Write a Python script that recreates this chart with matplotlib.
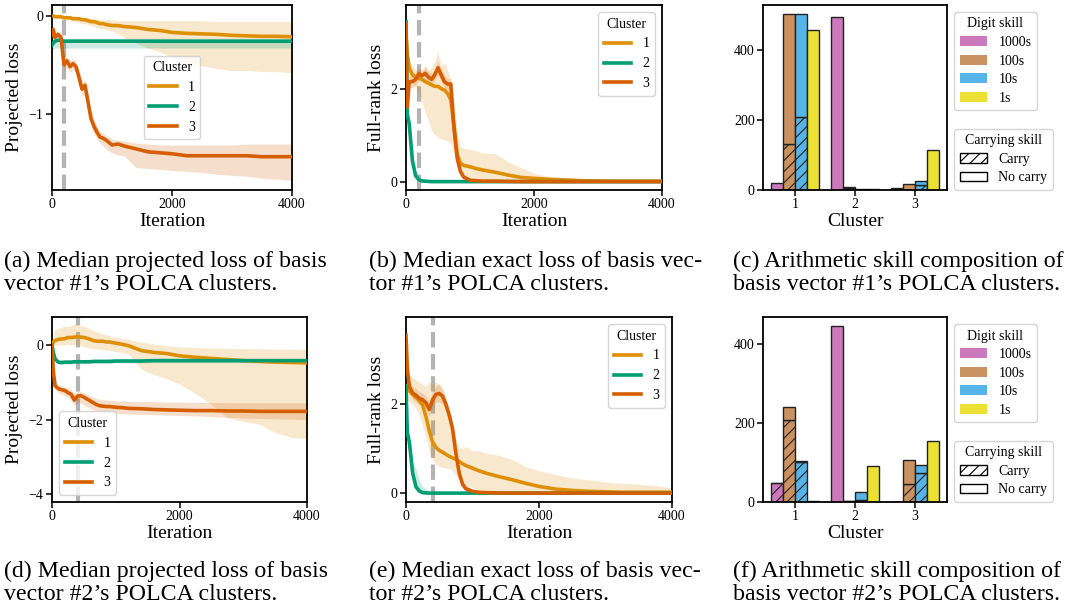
import matplotlib
matplotlib.use("Agg")
import matplotlib.pyplot as plt
from matplotlib.patches import Patch
import numpy as np

plt.rcParams['font.family'] = ['Liberation Serif', 'DejaVu Serif']
plt.rcParams['hatch.linewidth'] = 0.8

# ---------------- data ----------------
ITER = [0, 20, 50, 100, 150, 200, 250, 300, 350, 400, 450, 500, 550, 600, 650, 700, 750, 800, 850, 900,
        1000, 1100, 1200, 1400, 1600, 1800, 2000, 2250, 2500, 2750, 3000, 3250, 3500, 3750, 4000]

# (a) projected loss, basis vector #1
A1_MED = [0.0, 0.0, -0.01, -0.01, -0.01, -0.02, -0.02, -0.02, -0.03, -0.03, -0.03, -0.04, -0.04, -0.05, -0.06, -0.06, -0.07, -0.08, -0.08, -0.09,
          -0.10, -0.10, -0.11, -0.12, -0.14, -0.15, -0.17, -0.18, -0.185, -0.19, -0.20, -0.205, -0.21, -0.21, -0.215]
A1_HI = [0.0, 0.0, 0.0, 0.0, 0.0, 0.0, -0.01, -0.01, -0.01, -0.01, -0.01, -0.02, -0.02, -0.02, -0.03, -0.03, -0.03, -0.04, -0.04, -0.04,
         -0.04, -0.05, -0.05, -0.05, -0.05, -0.05, -0.05, -0.05, -0.05, -0.06, -0.06, -0.06, -0.06, -0.06, -0.06]
A1_LO = [0.0, -0.01, -0.02, -0.02, -0.03, -0.04, -0.04, -0.05, -0.05, -0.06, -0.07, -0.08, -0.08, -0.09, -0.10, -0.11, -0.12, -0.13, -0.13, -0.14,
         -0.16, -0.18, -0.22, -0.28, -0.33, -0.37, -0.42, -0.48, -0.51, -0.54, -0.56, -0.56, -0.57, -0.57, -0.58]
A2_MED = [-0.30, -0.28, -0.26, -0.25, -0.25, -0.26, -0.26, -0.26, -0.26, -0.26, -0.26, -0.26, -0.26, -0.26, -0.26, -0.26, -0.26, -0.26, -0.26, -0.26,
          -0.26, -0.26, -0.26, -0.26, -0.26, -0.26, -0.26, -0.26, -0.26, -0.26, -0.26, -0.26, -0.26, -0.26, -0.26]
A2_HI = [-0.24, -0.23, -0.23, -0.23, -0.23, -0.23, -0.23, -0.23, -0.23, -0.23, -0.23, -0.23, -0.23, -0.23, -0.23, -0.23, -0.23, -0.23, -0.23, -0.23,
         -0.23, -0.23, -0.23, -0.23, -0.23, -0.23, -0.23, -0.23, -0.23, -0.23, -0.23, -0.23, -0.23, -0.23, -0.23]
A2_LO = [-0.35, -0.34, -0.33, -0.33, -0.33, -0.33, -0.33, -0.33, -0.33, -0.33, -0.33, -0.33, -0.33, -0.33, -0.33, -0.33, -0.33, -0.33, -0.33, -0.33,
         -0.33, -0.33, -0.33, -0.33, -0.33, -0.33, -0.33, -0.33, -0.33, -0.33, -0.33, -0.33, -0.33, -0.33, -0.33]
A3_MED = [-0.20, -0.14, -0.22, -0.19, -0.22, -0.50, -0.46, -0.52, -0.49, -0.52, -0.63, -0.75, -0.71, -0.88, -1.05, -1.13, -1.19, -1.24, -1.25, -1.27,
          -1.32, -1.31, -1.33, -1.36, -1.39, -1.40, -1.41, -1.43, -1.43, -1.43, -1.43, -1.43, -1.44, -1.44, -1.44]
A3_HI = [-0.12, -0.10, -0.15, -0.16, -0.18, -0.42, -0.42, -0.46, -0.44, -0.46, -0.55, -0.68, -0.66, -0.80, -0.97, -1.06, -1.13, -1.19, -1.20, -1.22,
         -1.26, -1.27, -1.28, -1.30, -1.31, -1.32, -1.32, -1.32, -1.32, -1.32, -1.32, -1.31, -1.31, -1.31, -1.31]
A3_LO = [-0.30, -0.24, -0.28, -0.25, -0.28, -0.56, -0.52, -0.58, -0.55, -0.58, -0.68, -0.82, -0.80, -0.95, -1.12, -1.20, -1.26, -1.30, -1.33, -1.36,
         -1.40, -1.42, -1.43, -1.55, -1.56, -1.57, -1.58, -1.59, -1.60, -1.62, -1.63, -1.64, -1.66, -1.67, -1.68]

# (b) full-rank loss, basis vector #1
B1_MED = [3.2, 2.75, 2.45, 2.30, 2.25, 2.22, 2.20, 2.15, 2.12, 2.08, 2.05, 2.05, 2.00, 1.97, 1.90, 1.76, 1.20, 0.60, 0.40, 0.35,
          0.32, 0.28, 0.25, 0.20, 0.14, 0.09, 0.07, 0.05, 0.035, 0.02, 0.015, 0.01, 0.01, 0.01, 0.01]
B1_HI = [3.4, 2.9, 2.6, 2.5, 2.4, 2.45, 2.35, 2.5, 2.4, 2.45, 2.6, 2.8, 2.5, 2.55, 2.4, 2.2, 1.7, 1.1, 0.75, 0.72,
         0.70, 0.66, 0.62, 0.60, 0.42, 0.30, 0.18, 0.10, 0.06, 0.04, 0.03, 0.02, 0.02, 0.01, 0.01]
B1_LO = [2.8, 2.5, 2.2, 2.1, 2.05, 1.9, 1.7, 1.5, 1.3, 1.1, 1.0, 0.95, 0.92, 0.90, 0.88, 0.82, 0.60, 0.35, 0.15, 0.10,
         0.06, 0.04, 0.02, 0.01, 0.0, 0.0, 0.0, 0.0, 0.0, 0.0, 0.0, 0.0, 0.0, 0.0, 0.0]
B2_MED = [3.45, 1.45, 1.25, 0.45, 0.13, 0.04, 0.015, 0.01, 0.005, 0.0, 0.0, 0.0, 0.0, 0.0, 0.0, 0.0, 0.0, 0.0, 0.0, 0.0,
          0.0, 0.0, 0.0, 0.0, 0.0, 0.0, 0.0, 0.0, 0.0, 0.0, 0.0, 0.0, 0.0, 0.0, 0.0]
B2_HI = [3.5, 1.6, 1.4, 0.6, 0.22, 0.08, 0.04, 0.02, 0.01, 0.01, 0.01, 0.01, 0.01, 0.01, 0.01, 0.01, 0.01, 0.01, 0.01, 0.01,
         0.01, 0.01, 0.01, 0.01, 0.01, 0.01, 0.01, 0.01, 0.01, 0.01, 0.01, 0.01, 0.01, 0.01, 0.01]
B2_LO = [3.4, 1.35, 1.1, 0.3, 0.08, 0.02, 0.0, 0.0, 0.0, 0.0, 0.0, 0.0, 0.0, 0.0, 0.0, 0.0, 0.0, 0.0, 0.0, 0.0,
         0.0, 0.0, 0.0, 0.0, 0.0, 0.0, 0.0, 0.0, 0.0, 0.0, 0.0, 0.0, 0.0, 0.0, 0.0]
B3_MED = [3.4, 1.6, 2.15, 2.15, 2.2, 2.32, 2.28, 2.33, 2.25, 2.2, 2.3, 2.45, 2.3, 2.15, 2.1, 2.1, 1.15, 0.5, 0.22, 0.1,
          0.03, 0.02, 0.01, 0.01, 0.005, 0.0, 0.0, 0.0, 0.0, 0.0, 0.0, 0.0, 0.0, 0.0, 0.0]
B3_HI = [3.5, 2.0, 2.27, 2.28, 2.33, 2.45, 2.4, 2.46, 2.38, 2.33, 2.43, 2.6, 2.43, 2.28, 2.22, 2.22, 1.3, 0.62, 0.3, 0.15,
         0.06, 0.04, 0.03, 0.02, 0.01, 0.01, 0.01, 0.01, 0.01, 0.01, 0.01, 0.01, 0.01, 0.01, 0.01]
B3_LO = [3.2, 1.5, 2.02, 2.02, 2.07, 2.2, 2.15, 2.2, 2.12, 2.07, 2.17, 2.3, 2.17, 2.02, 1.98, 1.95, 1.0, 0.38, 0.14, 0.05,
         0.01, 0.0, 0.0, 0.0, 0.0, 0.0, 0.0, 0.0, 0.0, 0.0, 0.0, 0.0, 0.0, 0.0, 0.0]

# (d) projected loss, basis vector #2
D1_MED = [0.0, 0.08, 0.12, 0.15, 0.16, 0.17, 0.20, 0.20, 0.21, 0.22, 0.21, 0.20, 0.18, 0.15, 0.12, 0.10, 0.10, 0.10, 0.08, 0.08,
          0.05, 0.02, -0.02, -0.15, -0.20, -0.23, -0.29, -0.33, -0.36, -0.39, -0.42, -0.44, -0.46, -0.47, -0.48]
D1_HI = [0.0, 0.30, 0.42, 0.45, 0.48, 0.50, 0.50, 0.52, 0.55, 0.55, 0.52, 0.50, 0.47, 0.42, 0.38, 0.35, 0.32, 0.30, 0.27, 0.25,
         0.20, 0.18, 0.15, 0.08, 0.02, -0.02, -0.05, -0.07, -0.08, -0.09, -0.10, -0.10, -0.11, -0.11, -0.12]
D1_LO = [0.0, 0.0, -0.02, 0.0, 0.0, 0.0, 0.02, 0.0, 0.0, 0.0, -0.02, -0.05, -0.07, -0.08, -0.10, -0.10, -0.12, -0.12, -0.14, -0.15,
         -0.18, -0.20, -0.25, -0.65, -0.80, -0.90, -1.05, -1.30, -1.60, -1.95, -2.05, -2.12, -2.35, -2.48, -2.50]
D2_MED = [0.0, -0.20, -0.38, -0.46, -0.47, -0.46, -0.46, -0.46, -0.45, -0.45, -0.45, -0.45, -0.45, -0.45, -0.44, -0.44, -0.44, -0.44, -0.44, -0.44,
          -0.43, -0.43, -0.43, -0.43, -0.42, -0.42, -0.42, -0.42, -0.42, -0.42, -0.42, -0.42, -0.42, -0.42, -0.42]
D2_HI = [0.0, -0.16, -0.34, -0.42, -0.43, -0.42, -0.42, -0.42, -0.41, -0.41, -0.41, -0.41, -0.41, -0.40, -0.40, -0.40, -0.40, -0.40, -0.40, -0.40,
         -0.39, -0.39, -0.38, -0.37, -0.36, -0.36, -0.36, -0.36, -0.36, -0.36, -0.36, -0.36, -0.36, -0.36, -0.36]
D2_LO = [0.0, -0.25, -0.43, -0.51, -0.52, -0.51, -0.51, -0.51, -0.50, -0.50, -0.50, -0.50, -0.50, -0.50, -0.49, -0.49, -0.49, -0.49, -0.49, -0.49,
         -0.48, -0.48, -0.48, -0.48, -0.48, -0.48, -0.48, -0.48, -0.48, -0.48, -0.48, -0.48, -0.48, -0.48, -0.48]
D3_MED = [0.0, -0.70, -1.10, -1.17, -1.20, -1.22, -1.28, -1.32, -1.48, -1.37, -1.36, -1.40, -1.45, -1.50, -1.55, -1.60, -1.63, -1.64, -1.65, -1.65,
          -1.67, -1.68, -1.70, -1.71, -1.73, -1.74, -1.75, -1.76, -1.76, -1.77, -1.77, -1.78, -1.78, -1.78, -1.78]
D3_HI = [0.0, -0.60, -1.00, -1.08, -1.10, -1.12, -1.15, -1.20, -1.30, -1.25, -1.25, -1.28, -1.32, -1.36, -1.40, -1.44, -1.46, -1.47, -1.48, -1.48,
         -1.50, -1.50, -1.51, -1.52, -1.52, -1.53, -1.53, -1.54, -1.54, -1.55, -1.55, -1.55, -1.55, -1.55, -1.55]
D3_LO = [0.0, -0.80, -1.20, -1.28, -1.32, -1.35, -1.40, -1.48, -1.62, -1.55, -1.55, -1.60, -1.65, -1.70, -1.73, -1.76, -1.78, -1.80, -1.81, -1.82,
         -1.83, -1.84, -1.85, -1.86, -1.87, -1.88, -1.89, -1.90, -1.92, -1.94, -1.96, -1.97, -1.98, -1.99, -2.00]

# (e) full-rank loss, basis vector #2
E1_MED = [2.40, 2.35, 2.30, 2.22, 2.15, 2.08, 1.98, 1.72, 1.40, 1.15, 1.03, 0.96, 0.92, 0.87, 0.83, 0.79, 0.76, 0.71, 0.66, 0.62,
          0.56, 0.50, 0.45, 0.37, 0.30, 0.22, 0.15, 0.09, 0.06, 0.04, 0.03, 0.02, 0.02, 0.02, 0.02]
E1_HI = [2.60, 2.60, 2.65, 2.60, 2.55, 2.50, 2.45, 2.40, 2.50, 2.45, 2.50, 2.45, 2.30, 2.00, 1.80, 1.50, 1.20, 1.05, 1.00, 1.05,
         0.95, 0.95, 0.90, 0.85, 0.75, 0.60, 0.50, 0.42, 0.34, 0.30, 0.25, 0.22, 0.20, 0.17, 0.12]
E1_LO = [2.20, 2.10, 2.05, 2.00, 1.90, 1.75, 1.50, 1.25, 0.95, 0.75, 0.65, 0.60, 0.58, 0.56, 0.55, 0.50, 0.40, 0.30, 0.22, 0.17,
         0.12, 0.08, 0.05, 0.03, 0.02, 0.01, 0.0, 0.0, 0.0, 0.0, 0.0, 0.0, 0.0, 0.0, 0.0]
E2_MED = [2.40, 1.35, 1.15, 0.45, 0.14, 0.05, 0.01, 0.005, 0.0, 0.0, 0.0, 0.0, 0.0, 0.0, 0.0, 0.0, 0.0, 0.0, 0.0, 0.0,
          0.0, 0.0, 0.0, 0.0, 0.0, 0.0, 0.0, 0.0, 0.0, 0.0, 0.0, 0.0, 0.0, 0.0, 0.0]
E2_HI = [2.50, 1.50, 1.35, 0.70, 0.55, 0.30, 0.15, 0.10, 0.06, 0.05, 0.04, 0.03, 0.02, 0.01, 0.01, 0.01, 0.01, 0.01, 0.01, 0.01,
         0.01, 0.01, 0.01, 0.01, 0.01, 0.01, 0.01, 0.01, 0.01, 0.01, 0.01, 0.01, 0.01, 0.01, 0.01]
E2_LO = [2.30, 1.20, 1.00, 0.30, 0.05, 0.0, 0.0, 0.0, 0.0, 0.0, 0.0, 0.0, 0.0, 0.0, 0.0, 0.0, 0.0, 0.0, 0.0, 0.0,
         0.0, 0.0, 0.0, 0.0, 0.0, 0.0, 0.0, 0.0, 0.0, 0.0, 0.0, 0.0, 0.0, 0.0, 0.0]
E3_MED = [3.55, 2.80, 2.40, 2.25, 2.20, 2.13, 2.10, 2.03, 1.88, 2.10, 2.22, 2.24, 2.18, 2.00, 1.75, 1.45, 0.90, 0.45, 0.20, 0.10,
          0.04, 0.02, 0.01, 0.005, 0.0, 0.0, 0.0, 0.0, 0.0, 0.0, 0.0, 0.0, 0.0, 0.0, 0.0]
E3_HI = [3.65, 2.95, 2.55, 2.40, 2.35, 2.28, 2.25, 2.18, 2.05, 2.28, 2.40, 2.45, 2.35, 2.15, 1.90, 1.60, 1.05, 0.58, 0.30, 0.16,
         0.08, 0.05, 0.03, 0.02, 0.01, 0.01, 0.01, 0.01, 0.01, 0.01, 0.01, 0.01, 0.01, 0.01, 0.01]
E3_LO = [3.45, 2.65, 2.25, 2.10, 2.05, 1.98, 1.95, 1.88, 1.72, 1.95, 2.05, 2.05, 2.00, 1.85, 1.60, 1.30, 0.75, 0.32, 0.12, 0.05,
         0.01, 0.0, 0.0, 0.0, 0.0, 0.0, 0.0, 0.0, 0.0, 0.0, 0.0, 0.0, 0.0, 0.0, 0.0]

# bar charts
CLUSTERS = [1, 2, 3]
DIGITS = ['1000s', '100s', '10s', '1s']
# (c) basis vector #1 : totals and carry part, per digit skill, per cluster
C_TOTAL = {'1000s': [20, 492, 7], '100s': [502, 9, 18], '10s': [502, 2, 25], '1s': [456, 2, 115]}
C_CARRY = {'1000s': [0, 0, 0], '100s': [132, 6, 0], '10s': [209, 1, 13], '1s': [0, 0, 0]}
# (f) basis vector #2
F_TOTAL = {'1000s': [48, 445, 1], '100s': [240, 3, 105], '10s': [103, 25, 93], '1s': [2, 90, 154]}
F_CARRY = {'1000s': [48, 0, 0], '100s': [207, 3, 46], '10s': [100, 5, 74], '1s': [0, 0, 0]}

CLUSTER_LABELS = ['1', '2', '3']
CAPTIONS = [
    ("(a) Median projected loss of basis", "vector #1\u2019s POLCA clusters."),
    ("(b) Median exact loss of basis vec-", "tor #1\u2019s POLCA clusters."),
    ("(c) Arithmetic skill composition of", "basis vector #1\u2019s POLCA clusters."),
    ("(d) Median projected loss of basis", "vector #2\u2019s POLCA clusters."),
    ("(e) Median exact loss of basis vec-", "tor #2\u2019s POLCA clusters."),
    ("(f) Arithmetic skill composition of", "basis vector #2\u2019s POLCA clusters."),
]

# ---------------- styling ----------------
LINE_COLORS = ['#de8f05', '#029e73', '#d55e00']
BAR_COLORS = {'1000s': '#cc78bc', '100s': '#ca9161', '10s': '#56b4e9', '1s': '#ece133'}

W, H = 1065, 608
fig = plt.figure(figsize=(W / 100, H / 100), dpi=100)


def px_axes(left, right, top, bottom):
    return fig.add_axes([left / W, 1 - bottom / H, (right - left) / W, (bottom - top) / H])


def style_axes(ax):
    for s in ax.spines.values():
        s.set_linewidth(1.3)
    ax.tick_params(direction='out', length=4, width=1.1, labelsize=10, pad=2)


def line_panel(ax, series, ylim, yticks, ylabel, vline, legend_loc, legend_kw=None):
    x = np.array(ITER)
    ax.axvline(vline, color='#9a9a9a', lw=3, ls='--', alpha=0.75, zorder=1)
    for i, (med, lo, hi) in enumerate(series):
        ax.fill_between(x, lo, hi, color=LINE_COLORS[i], alpha=0.2, lw=0, zorder=2)
    for i, (med, lo, hi) in enumerate(series):
        ax.plot(x, med, color=LINE_COLORS[i], lw=2.6, label=CLUSTER_LABELS[i], zorder=3)
    ax.set_xlim(0, 4000)
    ax.set_ylim(*ylim)
    ax.set_xticks([0, 2000, 4000])
    ax.set_yticks(yticks)
    ax.set_xlabel('Iteration', fontsize=14, labelpad=1)
    ax.set_ylabel(ylabel, fontsize=14, labelpad=4)
    kw = dict(title='Cluster', fontsize=10, title_fontsize=10, loc=legend_loc)
    if legend_kw:
        kw.update(legend_kw)
    ax.legend(**kw)
    style_axes(ax)


def bar_panel(ax, total, carry):
    xs = np.array(CLUSTERS, dtype=float)
    width = 0.2
    for j, d in enumerate(DIGITS):
        pos = xs + (j - 1.5) * width
        tot = np.array(total[d], dtype=float)
        car = np.array(carry[d], dtype=float)
        ax.bar(pos, car, width, color=BAR_COLORS[d], edgecolor='#222222', lw=1.0, hatch='///', zorder=2)
        ax.bar(pos, tot - car, width, bottom=car, color=BAR_COLORS[d], edgecolor='#222222', lw=1.0, zorder=2)
    ax.set_xticks(CLUSTERS)
    ax.set_xticklabels(CLUSTER_LABELS)
    ax.set_yticks([0, 200, 400])
    ax.set_xlabel('Cluster', fontsize=14, labelpad=1)
    style_axes(ax)
    h1 = [Patch(facecolor=BAR_COLORS[d], edgecolor='none', label=d) for d in DIGITS]
    leg1 = ax.legend(handles=h1, title='Digit skill', fontsize=10, title_fontsize=10,
                     loc='upper left', bbox_to_anchor=(1.0, 1.0), labelspacing=0.4)
    ax.add_artist(leg1)
    h2 = [Patch(facecolor='white', edgecolor='black', hatch='///', label='Carry'),
          Patch(facecolor='white', edgecolor='black', label='No carry')]
    ax.legend(handles=h2, title='Carrying skill', fontsize=10, title_fontsize=10,
              loc='lower left', bbox_to_anchor=(1.038, 0.0), borderaxespad=0, labelspacing=0.4)


ax_a = px_axes(52, 292, 5, 190)
line_panel(ax_a, [(A1_MED, A1_LO, A1_HI), (A2_MED, A2_LO, A2_HI), (A3_MED, A3_LO, A3_HI)],
           (-1.78, 0.11), [0, -1], 'Projected loss', 200, 'center')

ax_b = px_axes(406, 662, 5, 190)
line_panel(ax_b, [(B1_MED, B1_LO, B1_HI), (B2_MED, B2_LO, B2_HI), (B3_MED, B3_LO, B3_HI)],
           (-0.18, 3.8), [0, 2], 'Full-rank loss', 200, 'upper right')

ax_c = px_axes(763, 947, 5, 190)
bar_panel(ax_c, C_TOTAL, C_CARRY)

ax_d = px_axes(52, 307, 317, 502)
line_panel(ax_d, [(D1_MED, D1_LO, D1_HI), (D2_MED, D2_LO, D2_HI), (D3_MED, D3_LO, D3_HI)],
           (-4.21, 0.75), [0, -2, -4], 'Projected loss', 400, 'lower left')

ax_e = px_axes(406, 672, 317, 502)
line_panel(ax_e, [(E1_MED, E1_LO, E1_HI), (E2_MED, E2_LO, E2_HI), (E3_MED, E3_LO, E3_HI)],
           (-0.2, 3.96), [0, 2], 'Full-rank loss', 400, 'upper right')

ax_f = px_axes(763, 947, 317, 502)
bar_panel(ax_f, F_TOTAL, F_CARRY)

# captions
cap_x = [4, 369, 733]
cap_y = [(267, 290), (577, 600)]
for k, (l1, l2) in enumerate(CAPTIONS):
    r, c = divmod(k, 3)
    fig.text(cap_x[c] / W, 1 - cap_y[r][0] / H, l1, fontsize=17.2, va='baseline', ha='left')
    fig.text(cap_x[c] / W, 1 - cap_y[r][1] / H, l2, fontsize=17.2, va='baseline', ha='left')

fig.savefig('out.png', dpi=100)
